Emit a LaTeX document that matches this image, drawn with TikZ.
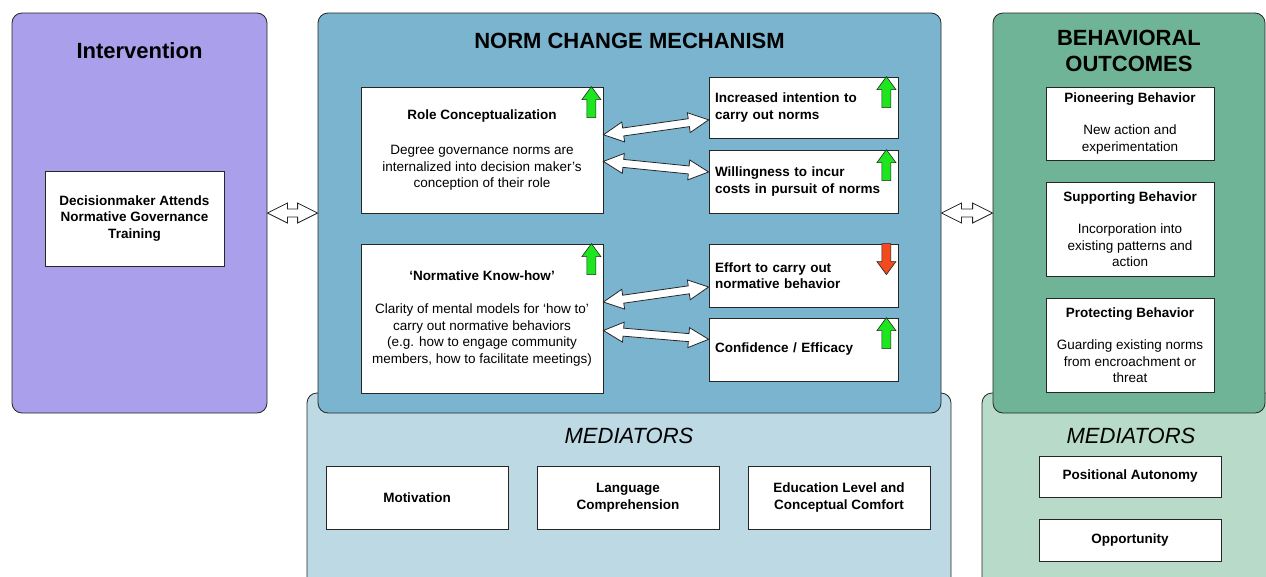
\documentclass[tikz,border=0pt]{standalone}
\usepackage{fontspec}
\setmainfont{Liberation Sans}
\usetikzlibrary{positioning,calc}

\definecolor{intervfill}{HTML}{A99FEA}
\definecolor{normfill}{HTML}{7AB4CF}
\definecolor{behavfill}{HTML}{70B497}
\definecolor{medbluefill}{HTML}{BDD9E4}
\definecolor{medgreenfill}{HTML}{B7DBC8}
\definecolor{upfill}{HTML}{1EE61E}
\definecolor{downfill}{HTML}{F04A1E}

\newcommand{\bodysize}{\fontsize{13.5}{16.5}\selectfont}
\newcommand{\blockarrow}[2]{%
  \coordinate (ba1) at ($(#1)!20pt!(#2)$);
  \coordinate (ba2) at ($(#2)!20pt!(#1)$);
  \draw[barrow] (#1) -- ($(ba1)!10pt!90:(#2)$) -- ($(ba1)!4pt!90:(#2)$)
    -- ($(ba2)!4pt!-90:(#1)$) -- ($(ba2)!10pt!-90:(#1)$) -- (#2)
    -- ($(ba2)!10pt!90:(#1)$) -- ($(ba2)!4pt!90:(#1)$)
    -- ($(ba1)!4pt!-90:(#2)$) -- ($(ba1)!10pt!-90:(#2)$) -- cycle;}
% trend mark at a box corner: #1 box, #2 fill, #3 = 1 up, -1 down
\newcommand{\trendmark}[3]{%
  \draw[markline, fill=#2, shift={($(#1.north east)+(-12,15.5)$)}, yscale=#3]
    (0,-15.5) -- (9.5,-2.5) -- (4.5,-2.5) -- (4.5,15.5) -- (-4.5,15.5)
    -- (-4.5,-2.5) -- (-9.5,-2.5) -- cycle;}

\begin{document}
\begin{tikzpicture}[x=1pt,y=-1pt,
    panel/.style={draw=black!85, rounded corners=10pt, line width=0.8pt, inner sep=0pt},
    wbox/.style={draw=black!85, fill=white, line width=0.8pt, inner sep=0pt, font=\bodysize, align=center},
    lbox/.style={wbox, text width=177pt, align=left, font=\bodysize\bfseries},
    title/.style={font=\fontsize{22}{26}\selectfont\bfseries, align=center},
    medtitle/.style={font=\fontsize{22}{26}\selectfont\itshape},
    barrow/.style={draw=black!85, fill=white, line width=0.8pt, line join=miter},
    markline/.style={draw=black!85, line width=0.6pt, line join=miter}]
  \useasboundingbox (0,0) rectangle (1266,576);
  \clip (0,0) rectangle (1266,576);

  % mediator panels (behind)
  \node[panel, fill=medbluefill, minimum width=644pt, minimum height=200pt] (medblue) at (629,493) {};
  \node[panel, fill=medgreenfill, minimum width=296pt, minimum height=200pt] (medgreen) at (1130,493) {};

  % main panels
  \node[panel, fill=intervfill, minimum width=255pt, minimum height=400pt] (interv) at (139.5,213) {};
  \node[panel, fill=normfill, minimum width=623pt, minimum height=400pt] (norm) at (629.5,213) {};
  \node[panel, fill=behavfill, minimum width=272pt, minimum height=400pt] (behav) at (1129,213) {};

  \node[title] (intervtitle) at (139.5,51) {Intervention};
  \node[title] (normtitle) at (629.5,41) {NORM CHANGE MECHANISM};
  \node[title] (behavtitle) at (1129,51) {BEHAVIORAL\\OUTCOMES};
  \node[medtitle] (medbluetitle) at (629,436) {MEDIATORS};
  \node[medtitle] (medgreentitle) at (1131,436) {MEDIATORS};

  % intervention
  \node[wbox, font=\bodysize\bfseries, minimum width=179pt, minimum height=95pt] (decide) at (134.5,218.5)
    {Decisionmaker Attends\\Normative Governance\\Training};

  % norm change mechanism
  \node[wbox, minimum width=242pt, minimum height=126pt] (role) at (482,150)
    {\textbf{Role Conceptualization}\\[19pt]Degree governance norms are\\internalized into decision maker’s\\conception of their role};
  \node[wbox, minimum width=242pt, minimum height=149pt] (knowhow) at (482,318.5)
    {\textbf{‘Normative Know-how’}\\[17pt]Clarity of mental models for ‘how to’\\carry out normative behaviors\\(e.g. how to engage community\\members, how to facilitate meetings)};
  \node[lbox, minimum width=189pt, minimum height=61pt] (intent) at (803.5,107.5)
    {Increased intention to\\carry out norms};
  \node[lbox, minimum width=189pt, minimum height=63pt] (willing) at (803.5,181.5)
    {Willingness to incur\\costs in pursuit of norms};
  \node[lbox, minimum width=189pt, minimum height=63pt] (effort) at (803.5,275.5)
    {Effort to carry out\\normative behavior};
  \node[lbox, minimum width=189pt, minimum height=63pt] (confid) at (803.5,349.5)
    {Confidence / Efficacy};

  \trendmark{role}{upfill}{1}
  \trendmark{knowhow}{upfill}{1}
  \trendmark{intent}{upfill}{1}
  \trendmark{willing}{upfill}{1}
  \trendmark{effort}{downfill}{-1}
  \trendmark{confid}{upfill}{1}

  \coordinate (r1) at ($(role.north east)!0.38!(role.south east)$);
  \coordinate (r2) at ($(role.north east)!0.59!(role.south east)$);
  \coordinate (k1) at ($(knowhow.north east)!0.39!(knowhow.south east)$);
  \coordinate (k2) at ($(knowhow.north east)!0.58!(knowhow.south east)$);
  \coordinate (i1) at ($(intent.north west)!0.70!(intent.south west)$);
  \coordinate (w1) at ($(willing.north west)!0.35!(willing.south west)$);
  \coordinate (e1) at ($(effort.north west)!0.68!(effort.south west)$);
  \coordinate (c1) at ($(confid.north west)!0.34!(confid.south west)$);
  \blockarrow{r1}{i1}
  \blockarrow{r2}{w1}
  \blockarrow{k1}{e1}
  \blockarrow{k2}{c1}

  % behavioral outcomes
  \node[wbox, minimum width=168pt, minimum height=73pt] (pioneer) at (1130,123.5)
    {\textbf{Pioneering Behavior}\\[16pt]New action and\\experimentation};
  \node[wbox, minimum width=168pt, minimum height=94pt] (support) at (1130,229)
    {\textbf{Supporting Behavior}\\[16pt]Incorporation into\\existing patterns and\\action};
  \node[wbox, minimum width=168pt, minimum height=94pt] (protect) at (1130,345)
    {\textbf{Protecting Behavior}\\[16pt]Guarding existing norms\\from encroachment or\\threat};

  % mediators
  \node[wbox, font=\bodysize\bfseries, minimum width=182pt, minimum height=63pt] (motiv) at (417,497.5) {Motivation};
  \node[wbox, font=\bodysize\bfseries, minimum width=182pt, minimum height=63pt] (langu) at (628,497.5) {Language\\Comprehension};
  \node[wbox, font=\bodysize\bfseries, minimum width=182pt, minimum height=63pt] (educ) at (839,497.5) {Education Level and\\Conceptual Comfort};
  \node[wbox, font=\bodysize\bfseries, minimum width=182pt, minimum height=41pt] (posaut) at (1130,476.5) {Positional Autonomy};
  \node[wbox, font=\bodysize\bfseries, minimum width=182pt, minimum height=42pt] (opport) at (1130,540) {Opportunity};

  % panel links
  \blockarrow{interv.east}{norm.west}
  \blockarrow{norm.east}{behav.west}
\end{tikzpicture}
\end{document}
